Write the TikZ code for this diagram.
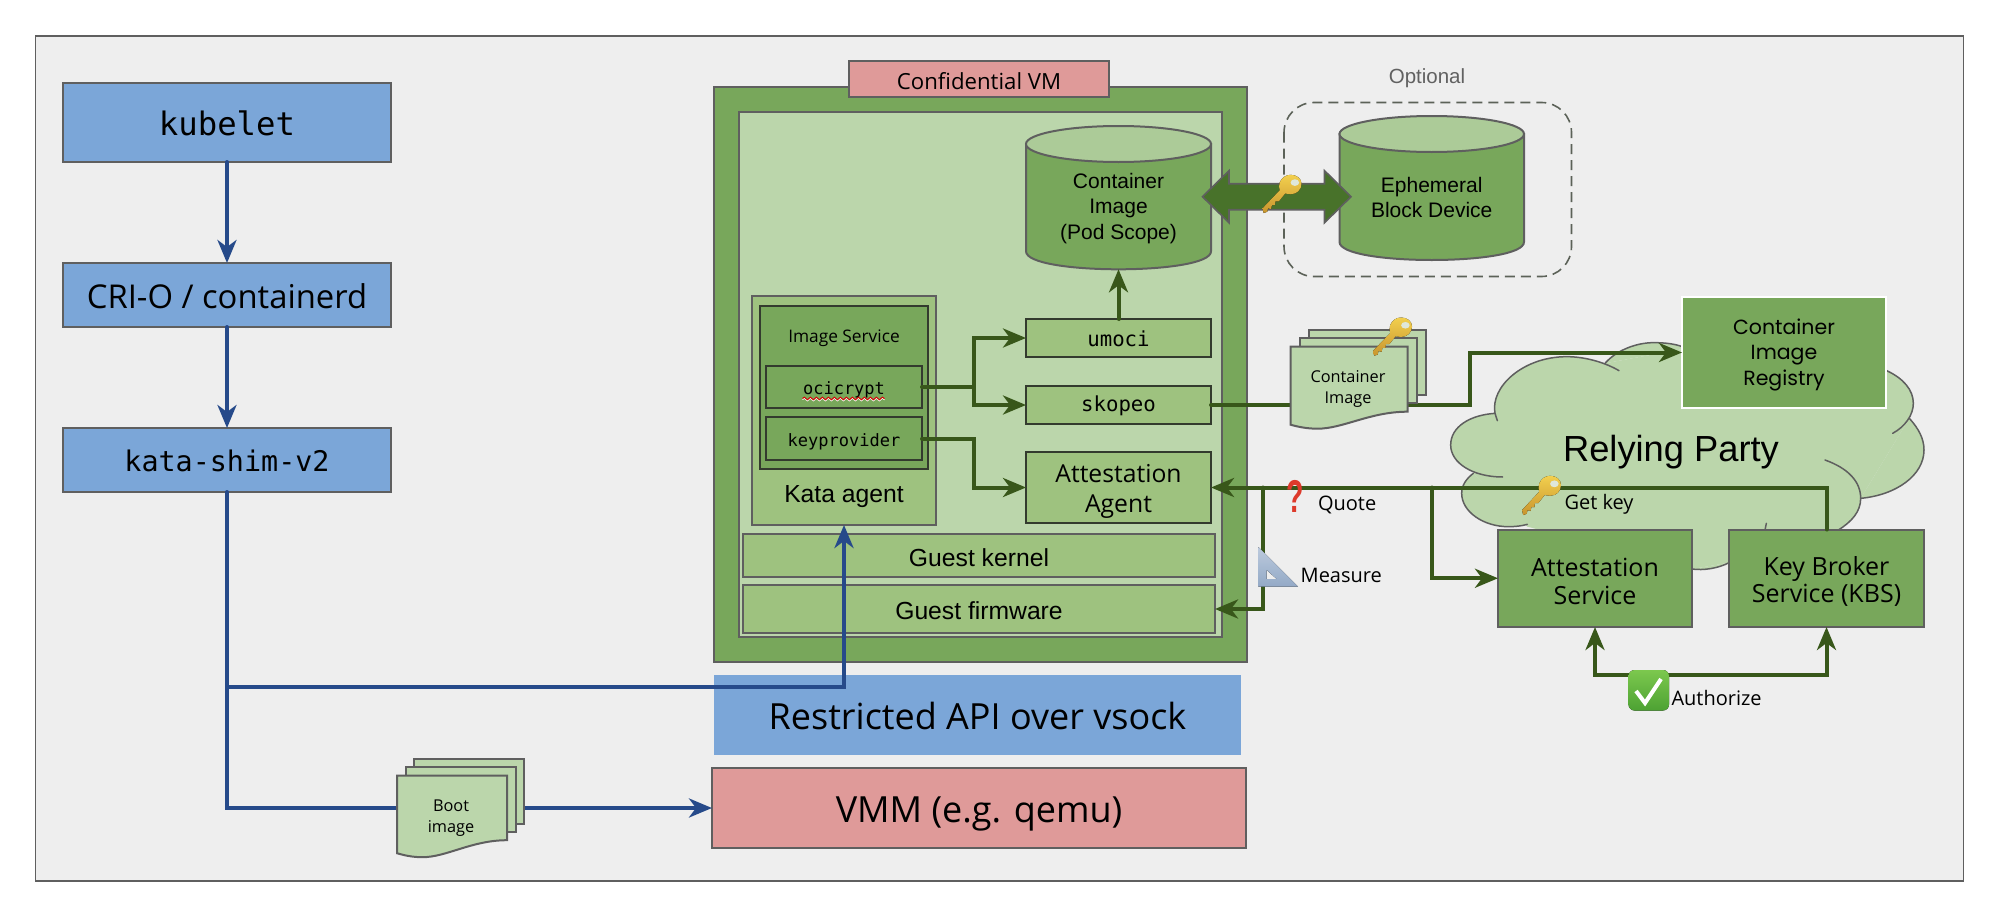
\documentclass[tikz,border=0pt]{standalone}
\usepackage{fontspec}
\usetikzlibrary{arrows.meta,calc,decorations.pathmorphing}
\newfontfamily\ffrh{Open Sans}
\newfontfamily\ffar{Liberation Sans}
\newfontfamily\ffmo{DejaVu Sans Mono}
\newfontfamily\ffmt{Poppins}
\newcommand{\fsz}[2]{\fontsize{#1}{#2}\selectfont}
\definecolor{bgc}{HTML}{EEEEEE}
\definecolor{edgec}{HTML}{5F5F5F}
\definecolor{inkc}{HTML}{333B2E}
\definecolor{bluec}{HTML}{7BA6D8}
\definecolor{dgc}{HTML}{78A75B}
\definecolor{mgc}{HTML}{9EC27F}
\definecolor{lgc}{HTML}{BBD6AB}
\definecolor{topc}{HTML}{ACCB98}
\definecolor{pinkc}{HTML}{DF9A99}
\definecolor{garrow}{HTML}{38571A}
\definecolor{barrow}{HTML}{264A8A}
\definecolor{darrow}{HTML}{48722A}
\definecolor{goldt}{HTML}{F2CF4E}
\definecolor{goldb}{HTML}{C8952E}
\definecolor{rulet}{HTML}{BCCADD}
\definecolor{ruleb}{HTML}{93A9C6}
\definecolor{chkt}{HTML}{7CC84E}
\definecolor{chkb}{HTML}{4DA233}
\definecolor{qred}{HTML}{DD3A2B}
\tikzset{
  x=1pt,y=-1pt,
  every node/.style={inner sep=0pt,outer sep=0pt,align=center,text=black},
  frameb/.style={draw=edgec,line width=1.6pt,fill=bgc},
  edged/.style={draw=edgec,line width=2pt},
  inked/.style={draw=inkc,line width=2pt},
  bluebox/.style={edged,fill=bluec},
  pinkbox/.style={edged,fill=pinkc},
  dgbox/.style={edged,fill=dgc},
  mgbox/.style={edged,fill=mgc},
  lgbox/.style={edged,fill=lgc},
  inkdg/.style={inked,fill=dgc},
  inkmg/.style={inked,fill=mgc},
  regbox/.style={draw=white,line width=2.6pt,fill=dgc},
  plainbox/.style={fill=bluec},
  gline/.style={draw=garrow,line width=4pt,line cap=round,line join=miter},
  garr/.style={gline,-{Stealth[length=23pt,width=19pt,inset=7pt]}},
  gdbl/.style={gline,{Stealth[length=23pt,width=19pt,inset=7pt]}-{Stealth[length=23pt,width=19pt,inset=7pt]}},
  bline/.style={draw=barrow,line width=4pt,line cap=round},
  barr/.style={bline,-{Stealth[length=23pt,width=19pt,inset=7pt]}},
  smalllab/.style={font=\ffrh\fsz{20}{24}},
  doclab/.style={font=\ffrh\fsz{16.3}{21}},
  arcyl/.style={font=\ffar\fsz{21}{25.2}},
  cloudline/.style={draw=edgec,line width=1.5pt,line cap=round},
}
\def\tdy{2}
% style name x0 y0 x1 y1 font text
\newcommand{\rn}[8]{%
  \pgfmathsetmacro{\cxv}{(#3+#5)/2}%
  \pgfmathsetmacro{\cyv}{(#4+#6)/2}%
  \pgfmathsetmacro{\wv}{#5-#3}%
  \pgfmathsetmacro{\hv}{#6-#4}%
  \node[#1,minimum width=\wv pt,minimum height=\hv pt] (#2) at (\cxv,\cyv) {};
  \node[font=#7] (#2t) at (\cxv,\cyv+\tdy) {#8};}
% cylinder: name x0 ytop x1 ybottom ry
\newcommand{\cyln}[6]{%
  \pgfmathsetmacro{\cxv}{(#2+#4)/2}%
  \pgfmathsetmacro{\cyv}{(#3+#5)/2}%
  \pgfmathsetmacro{\wv}{#4-#2}%
  \pgfmathsetmacro{\hv}{#5-#3}%
  \pgfmathsetmacro{\ty}{#3+#6}%
  \pgfmathsetmacro{\by}{#5-#6}%
  \pgfmathsetmacro{\cy}{#5+#6/3}%
  \draw[edged,fill=dgc] (#2,\ty) -- (#2,\by) .. controls (#2,\cy) and (#4,\cy) .. (#4,\by) -- (#4,\ty) -- cycle;
  \draw[edged,fill=topc] (\cxv,\ty) ellipse [x radius=\wv/2,y radius=#6];
  \node[minimum width=\wv pt,minimum height=\hv pt] (#1) at (\cxv,\cyv) {};}
% stacked document: x0 ytop w h xstep ystep
\newcommand{\docst}[6]{%
  \begin{scope}[shift={(#1,#2)}]
    \draw[edged,fill=lgc] (2*#5,-2*#6) rectangle ++(#3,#4);
    \draw[edged,fill=lgc] (#5,-#6) rectangle ++(#3,#4);
    \draw[edged,fill=lgc] (0,0) -- (#3,0) -- (#3,#4)
       .. controls (#3*0.68,#4) and (#3*0.45,#4+17) .. (#3*0.23,#4+17)
       .. controls (#3*0.14,#4+17) and (#3*0.06,#4+15) .. (0,#4+13) -- cycle;
  \end{scope}}
\newcommand{\keyg}[4]{%
  \begin{scope}[shift={(#1,#2)},xscale=#3,yscale=#4]
    \fill[top color=goldt,bottom color=goldb]
      (0.72,0.02) .. controls (0.88,0.02) and (1,0.12) .. (1,0.25)
      .. controls (1,0.40) and (0.88,0.52) .. (0.72,0.52)
      .. controls (0.66,0.52) and (0.62,0.50) .. (0.58,0.50)
      -- (0.42,0.70) -- (0.33,0.70) -- (0.32,0.80) -- (0.24,0.80) -- (0.22,0.90) -- (0.14,0.88) -- (0.12,0.97)
      -- (0.03,1.0) -- (0,0.88) -- (0.44,0.42)
      .. controls (0.42,0.34) and (0.42,0.30) .. (0.44,0.22)
      .. controls (0.48,0.10) and (0.60,0.02) .. (0.72,0.02) -- cycle;
    \fill[color=bgc!70!lgc] (0.83,0.22) ellipse [x radius=0.11,y radius=0.085];
  \end{scope}}
\begin{document}
\begin{tikzpicture}
\useasboundingbox (0,0) rectangle (1994,910);
\fill[white] (0,0) rectangle (1994,910);
\draw[frameb] (35.5,36) rectangle (1963.5,881);

% cloud (Relying Party)
\begin{scope}[shift={(1440,330)},scale=1/3]
  \fill[lgc] (100,430) -- (165,250) -- (495,100) -- (740,55) -- (1340,122) -- (1408,265) -- (1262,505)
     -- (1195,600) -- (867,698) -- (756,717) -- (262,590) -- cycle;
  \fill[lgc] (165,250) .. controls (90,255) and (32,290) .. (32,345) .. controls (32,400) and (100,441) .. (188,441);
  \fill[lgc] (165,250) .. controls (150,170) and (250,80) .. (380,80) .. controls (440,80) and (500,100) .. (537,122);
  \fill[lgc] (495,100) .. controls (530,60) and (590,38) .. (640,38) .. controls (680,38) and (710,42) .. (740,55);
  \fill[lgc] (1340,122) .. controls (1390,145) and (1420,180) .. (1420,220) .. controls (1420,255) and (1395,290) .. (1358,310);
  \fill[lgc] (1408,265) .. controls (1435,295) and (1452,325) .. (1452,360) .. controls (1452,435) and (1370,495) .. (1262,505);
  \fill[lgc] (1155,390) .. controls (1225,415) and (1262,455) .. (1262,505) .. controls (1262,545) and (1235,575) .. (1195,600);
  \fill[lgc] (100,430) .. controls (80,445) and (65,465) .. (65,490) .. controls (65,545) and (130,590) .. (205,590) .. controls (225,590) and (245,588) .. (262,583);
  \fill[lgc] (756,717) .. controls (790,722) and (835,715) .. (867,698);
  \draw[cloudline] (172,272) -- (165,250) .. controls (90,255) and (32,290) .. (32,345) .. controls (32,400) and (100,441) .. (188,441);
  \draw[cloudline] (165,250) .. controls (150,170) and (250,80) .. (380,80) .. controls (440,80) and (500,100) .. (537,122);
  \draw[cloudline] (495,100) .. controls (530,60) and (590,38) .. (640,38) .. controls (680,38) and (710,42) .. (740,55);
  \draw[cloudline] (1340,122) .. controls (1390,145) and (1420,180) .. (1420,220) .. controls (1420,255) and (1395,290) .. (1358,310);
  \draw[cloudline] (1408,265) .. controls (1435,295) and (1452,325) .. (1452,360) .. controls (1452,435) and (1370,495) .. (1262,505);
  \draw[cloudline] (1155,390) .. controls (1225,415) and (1262,455) .. (1262,505) .. controls (1262,545) and (1235,575) .. (1195,600);
  \draw[cloudline] (100,430) .. controls (80,445) and (65,465) .. (65,490) .. controls (65,545) and (130,590) .. (205,590) .. controls (225,590) and (245,588) .. (262,583);
  \draw[cloudline] (756,717) .. controls (790,722) and (835,715) .. (867,698);
  \draw[cloudline] (975,600) -- (979,580);
\end{scope}
\node[font=\ffar\fsz{36.3}{40}] (rp) at (1671,452) {Relying Party};

% left column
\def\tdy{1}
\rn{bluebox}{kubelet}{63}{83}{391}{162}{\ffmo\fsz{32.3}{38}}{kubelet}
\rn{bluebox}{cri}{63}{263}{391}{327}{\ffrh\fsz{32.8}{38}}{CRI-O / containerd}
\rn{bluebox}{shim}{63}{428}{391}{492}{\ffmo\fsz{28.4}{34}}{kata-shim-v2}
\def\tdy{2}

% confidential VM
\rn{dgbox}{cvm}{714}{87}{1247}{662}{\ffrh}{}
\rn{pinkbox}{cvmlabel}{849}{61}{1109}{97}{\ffrh\fsz{22.2}{26}}{Confidential VM}
\rn{lgbox}{inner}{739}{112}{1222}{637}{\ffrh}{}
\rn{mgbox}{kata}{752}{296}{936}{525}{\ffrh}{}
\rn{inkdg}{imgsvc}{760}{306}{928}{469}{\ffrh}{}
\node[font=\ffrh\fsz{17.3}{20}] (imglab) at (844,338) {Image Service};
\def\tdy{3}
\rn{inkdg}{oci}{766}{366}{922}{408}{\ffmo\fsz{17}{21}}{ocicrypt}
\rn{inkdg}{keyp}{766}{417}{922}{460}{\ffmo\fsz{17}{21}}{keyprovider}
\def\tdy{1}
\node[font=\ffar\fsz{24.7}{30}] (katalab) at (844,497) {Kata agent};
\rn{inkmg}{umoci}{1026}{319}{1211}{357}{\ffmo\fsz{20.7}{25}}{umoci}
\rn{inkmg}{skopeo}{1026}{386}{1211}{424}{\ffmo\fsz{20.7}{25}}{skopeo}
\def\tdy{4}
\rn{inkmg}{aa}{1026}{452}{1211}{523}{\ffrh\fsz{24.7}{30}}{Attestation\\Agent}
\def\tdy{2}
\rn{mgbox}{gk}{743}{534}{1215}{577}{\ffar\fsz{24.7}{30}}{Guest kernel}
\rn{mgbox}{fw}{743}{585}{1215}{633}{\ffar\fsz{24.7}{30}}{Guest firmware}
\cyln{cyl}{1026}{126}{1211}{269.3}{18}
\node[arcyl] (cyltext) at (1118.5,208.5) {Container\\Image\\(Pod Scope)};
\draw[draw=inkc!80!white,line width=1.6pt,dash pattern=on 10pt off 6pt,rounded corners=30pt] (1284,102.5) rectangle (1571.5,276.5);
\node[font=\ffar\fsz{20.5}{24},text=black!62] (optlab) at (1427,78) {Optional};
\cyln{eph}{1339.5}{116}{1524}{260}{18}
\node[arcyl] (ephtext) at (1431.7,197.5) {Ephemeral\\Block Device};

% double arrow between the cylinders
\coordinate (dl) at (1202.5,196.7);
\coordinate (dr) at (1351,196.7);
\draw[draw=edgec,line width=1.6pt,fill=darrow] (dl) -- ($(dl)+(26.5,-26)$) -- ($(dl)+(26.5,-13)$) -- ($(dr)+(-26.5,-13)$) -- ($(dr)+(-26.5,-26)$)
  -- (dr) -- ($(dr)+(-26.5,26)$) -- ($(dr)+(-26.5,13)$) -- ($(dl)+(26.5,13)$) -- ($(dl)+(26.5,26)$) -- cycle;

% right boxes
\rn{regbox}{reg}{1682}{297}{1886}{408}{\ffmt\fsz{20.5}{25.5}}{Container\\Image\\Registry}
\def\tdy{3}
\rn{dgbox}{as}{1498}{529.5}{1692}{627}{\ffrh\fsz{25}{27.5}}{Attestation\\Service}
\rn{dgbox}{kbs}{1729}{529.5}{1924}{627}{\ffrh\fsz{25}{27.5}}{Key Broker\\Service (KBS)}

% restricted API and VMM
\def\tdy{1}
\rn{plainbox}{api}{714}{675}{1241}{755}{\ffrh\fsz{36}{40}}{Restricted API over vsock}
\def\tdy{6}
\rn{pinkbox}{vmm}{712}{768}{1246}{848}{\ffrh\fsz{36}{42}}{VMM (e.g. qemu)}
\def\tdy{2}

% connector helpers
\coordinate (jx) at (974,0);
\coordinate (jm) at (1263,0);
\coordinate (jq) at (1432,0);
\coordinate (js) at (1470.3,0);
\coordinate (by) at (0,687.3);
\coordinate (ay) at (0,675);

% green connectors
\draw[garr] (oci.east) -- (oci.east -| jx) |- (umoci.west);
\draw[garr] (oci.east -| jx) |- (skopeo.west);
\draw[garr] (keyp.east) -- (keyp.east -| jx) |- (aa.west);
\draw[garr] (umoci.north) -- (cyl.south);
\draw[garr] (skopeo.east) -- (skopeo.east -| js) |- (reg.west);
\draw[garr] (kbs.north) |- (aa.east);
\draw[garr] (aa.east -| jm) |- (fw.east);
\draw[garr] (aa.east -| jq) |- (as.west);
\draw[gdbl] (as.south) -- (as.south |- ay) -- (kbs.south |- ay) -- (kbs.south);

% blue connectors
\draw[barr] (kubelet.south) -- (cri.north);
\draw[barr] (cri.south) -- (shim.north);
\draw[barr] (shim.south) |- (vmm.west);
\draw[barr] (shim.south |- by) -| (kata.south);

% documents
\docst{1290.5}{346.7}{117}{65}{9.3}{8.3}
\node[doclab] (cidoc) at (1348,389) {Container\\Image};
\docst{397}{775.7}{110}{64.5}{8.7}{8.3}
\node[doclab] (bootdoc) at (451,818.5) {Boot\\image};

% spell-check squiggle under ocicrypt
\coordinate (sqa) at (802.5,398.5);
\coordinate (sqb) at (884.5,398.5);
\draw[white,line width=1pt,decorate,decoration={snake,amplitude=1.3pt,segment length=6pt}] ($(sqa)+(0,1)$) -- ($(sqb)+(0,1)$);
\draw[red!85!black,line width=1pt,decorate,decoration={snake,amplitude=1.3pt,segment length=6pt}] (sqa) -- (sqb);

% keys
\keyg{1262.5}{174}{39}{39}
\keyg{1373}{316.7}{39}{39}
\keyg{1522}{475}{39}{40}

% labels and icons
\node[font=\ffar\bfseries\fsz{46}{46},text=qred,xscale=.62] (qm) at (1295,496) {?};
\node[smalllab,anchor=west] (qlab) at (1318,504.5) {Quote};
\fill[top color=rulet,bottom color=ruleb,even odd rule]
  (1258.3,547) -- (1298,586.7) -- (1258.3,586.7) -- cycle (1266.7,570) -- (1266.7,579) -- (1276.7,579) -- cycle;
\node[smalllab,anchor=west] (mlab) at (1300.7,575) {Measure};
\node[smalllab,anchor=west] (glab) at (1564.5,504.5) {Get key};
\fill[rounded corners=6pt,top color=chkt,bottom color=chkb] (1628.5,670) rectangle (1669,710.5);
\draw[white,line width=4pt,line join=miter] (1636,691) -- (1645,703) -- (1661,679);
\node[smalllab,anchor=west] (alab) at (1671.5,698) {Authorize};
\end{tikzpicture}
\end{document}
